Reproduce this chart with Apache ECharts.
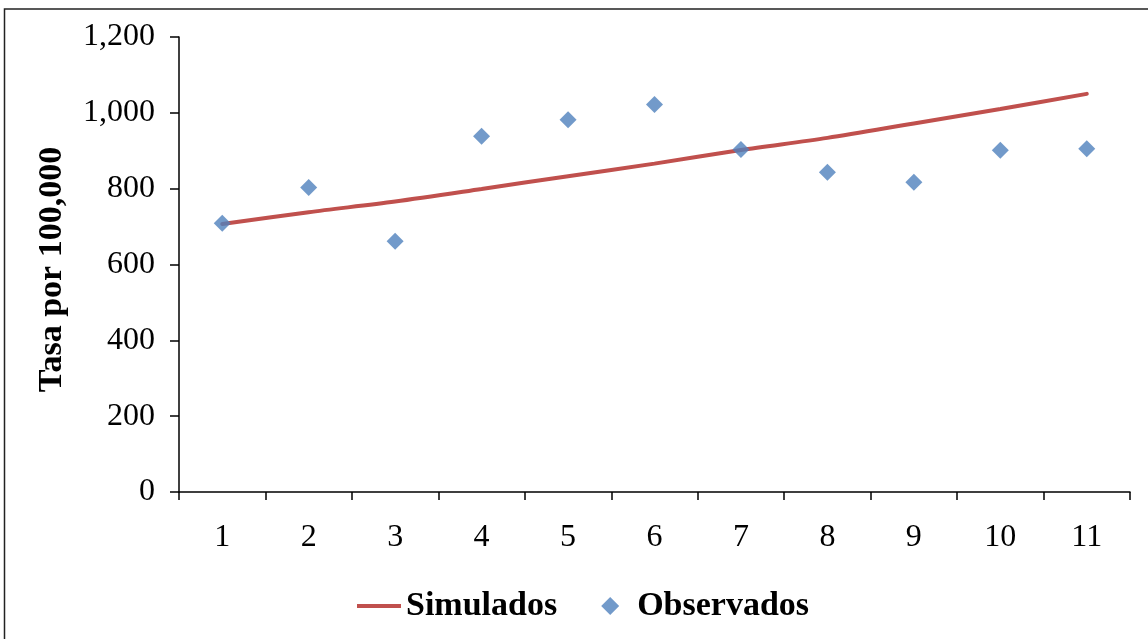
<!DOCTYPE html>
<html>
<head>
<meta charset="utf-8">
<script src="https://cdn.jsdelivr.net/npm/echarts@6/dist/echarts.min.js"></script>
<style>
  html, body { margin: 0; padding: 0; background: #fff; }
  #chart { width: 1148px; height: 639px; }
</style>
</head>
<body>
<div id="chart"></div>
<script>
// Years of the series
const categories = ['1', '2', '3', '4', '5', '6', '7', '8', '9', '10', '11'];
// Model rate per 100,000
const simulados = [707, 738, 766, 799, 833, 866, 902, 934, 972, 1010, 1050];
// Observed rate per 100,000
const observados = [709, 803, 661, 938, 982, 1022, 903, 843, 817, 901, 905];
const yTicks = [0, 200, 400, 600, 800, 1000, 1200];

const FONT = '"Liberation Serif", "Times New Roman", serif';
const chart = echarts.init(document.getElementById('chart'));

chart.setOption({
  animation: false,
  backgroundColor: '#ffffff',
  textStyle: { fontFamily: FONT },
  grid: { left: 179, right: 18, top: 37, bottom: 147 },
  graphic: [{
    type: 'rect',
    shape: { x: 4.5, y: 9, width: 1200, height: 700 },
    style: { fill: 'none', stroke: '#222', lineWidth: 1.5 },
    silent: true
  }],
  legend: {
    top: 584,
    left: 352,
    itemGap: 44,
    itemWidth: 44,
    itemHeight: 18,
    symbolKeepAspect: true,
    textStyle: { fontFamily: FONT, fontSize: 34, fontWeight: 'bold', color: '#000' },
    data: [
      { name: 'Simulados', icon: 'path://M0,0 L44,0 L44,4 L0,4 Z' },
      { name: 'Observados', icon: 'path://M8,0 L16,8 L8,16 L0,8 Z' }
    ]
  },
  xAxis: {
    type: 'category',
    data: categories,
    boundaryGap: true,
    axisLine: { lineStyle: { color: '#000', width: 1.5 } },
    axisTick: { show: true, length: 8, lineStyle: { color: '#000', width: 1.5 } },
    axisLabel: { fontFamily: FONT, fontSize: 32, color: '#000', margin: 30 },
    splitLine: { show: false }
  },
  yAxis: {
    type: 'value',
    min: 0,
    max: 1200,
    interval: 200,
    name: 'Tasa por 100,000',
    nameLocation: 'middle',
    nameGap: 110,
    nameTextStyle: {
      fontFamily: FONT, fontSize: 34, fontWeight: 'bold', color: '#000',
      padding: [0, 10, 0, 0]
    },
    axisLine: { show: true, lineStyle: { color: '#000', width: 1.5 } },
    axisTick: { show: true, length: 9, lineStyle: { color: '#000', width: 1.5 } },
    axisLabel: {
      fontFamily: FONT, fontSize: 32, color: '#000', margin: 24,
      formatter: v => yTicks.includes(v) ? v.toLocaleString('en-US') : ''
    },
    splitLine: { show: false }
  },
  series: [
    {
      name: 'Simulados',
      type: 'line',
      data: simulados,
      smooth: 0.3,
      showSymbol: false,
      symbol: 'none',
      z: 2,
      lineStyle: { color: '#C0504D', width: 4, cap: 'round' },
      itemStyle: { color: '#C0504D' }
    },
    {
      name: 'Observados',
      type: 'scatter',
      data: observados,
      symbol: 'diamond',
      symbolSize: [17, 17],
      z: 3,
      itemStyle: { color: '#4F81BD' }
    }
  ]
});
</script>
</body>
</html>
